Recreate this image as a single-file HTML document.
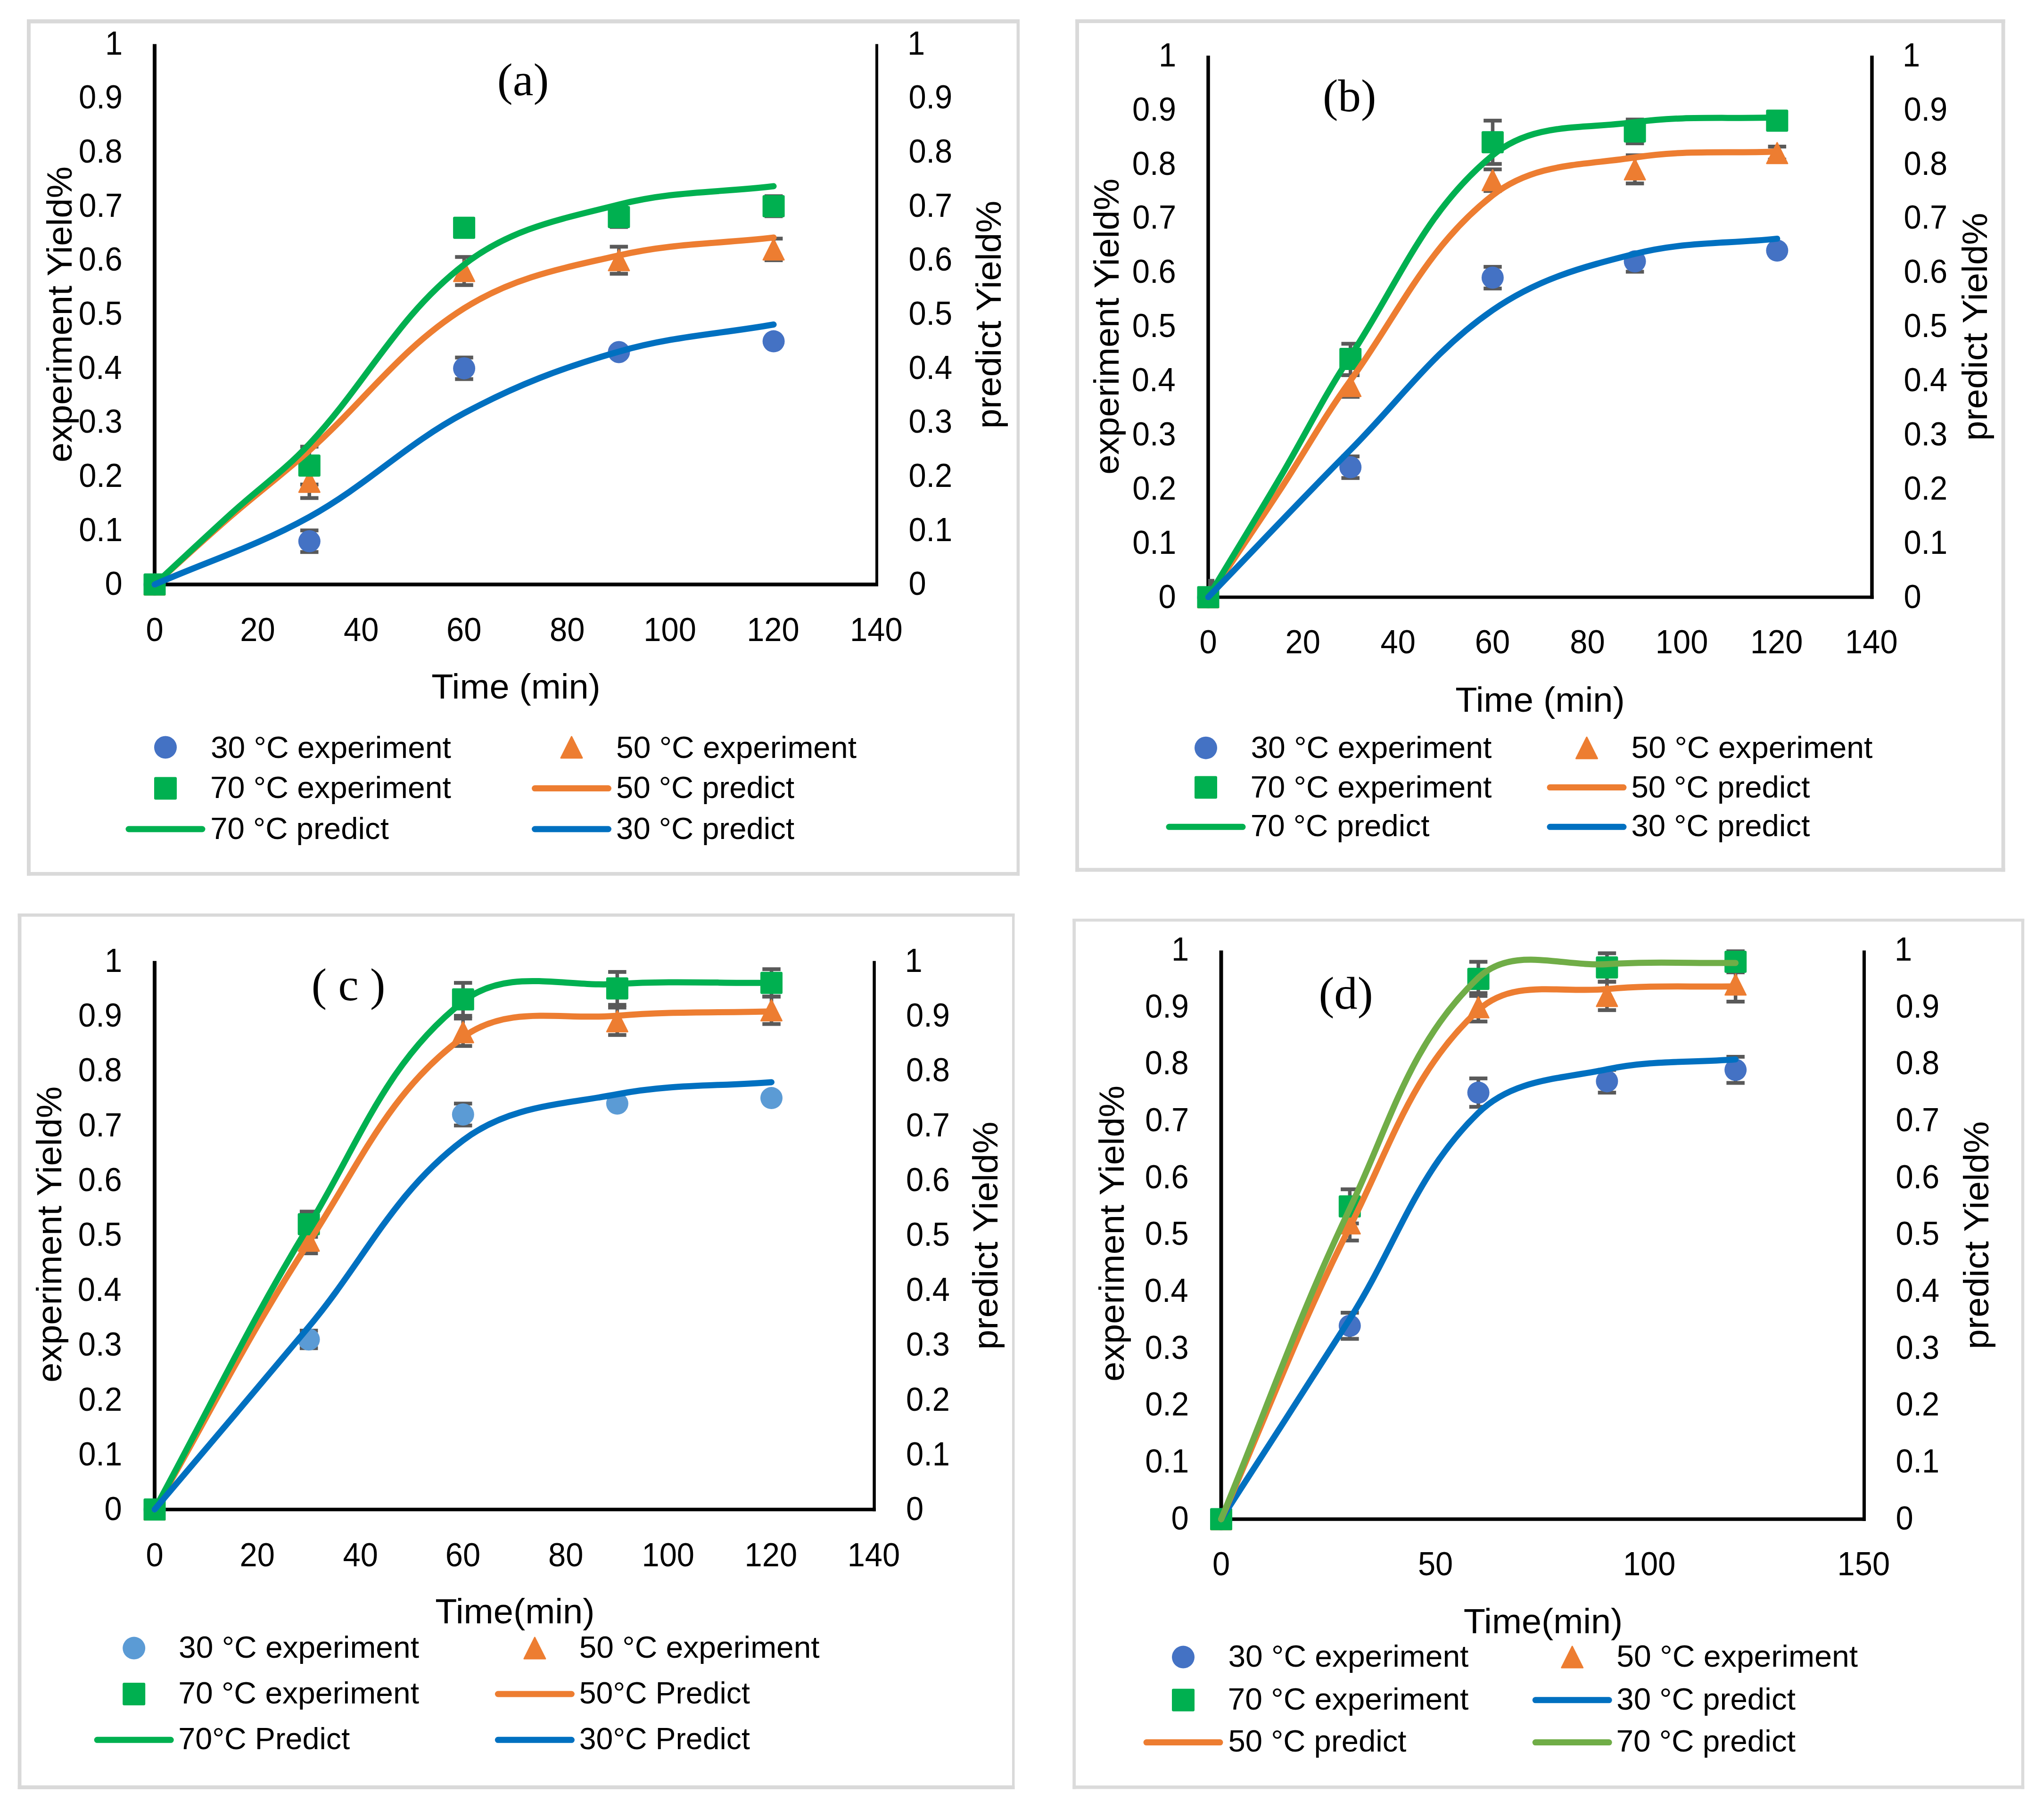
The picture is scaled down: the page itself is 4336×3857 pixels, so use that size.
<!DOCTYPE html>
<html><head><meta charset="utf-8"><title>Yield vs time</title>
<style>html,body{margin:0;padding:0;background:#fff;}svg{display:block;}</style></head>
<body>
<svg width="4336" height="3857" viewBox="0 0 4336 3857">
<rect width="4336" height="3857" fill="#fff"/>
<g fill="#d9d9d9"><rect x="57.0" y="41.0" width="8.0" height="1816.8"/><rect x="2156.5" y="41.0" width="6.5" height="1816.8"/><rect x="57.0" y="41.0" width="2106.0" height="8.6"/><rect x="57.0" y="1850.0" width="2106.0" height="7.8"/></g>
<path d="M328.0 93.5 V1244.0" stroke="#000" stroke-width="8.0" fill="none"/><path d="M1860.0 93.5 V1244.0" stroke="#000" stroke-width="6.0" fill="none"/><path d="M324.0 1240.0 H1863.0" stroke="#000" stroke-width="8.0" fill="none"/>
<text x="222.4" y="1262.2" font-family="'Liberation Sans', sans-serif" font-size="70.0" fill="#000" textLength="37.2" lengthAdjust="spacingAndGlyphs" xml:space="preserve">0</text>
<text x="1927.4" y="1262.2" font-family="'Liberation Sans', sans-serif" font-size="70.0" fill="#000" textLength="37.2" lengthAdjust="spacingAndGlyphs" xml:space="preserve">0</text>
<text x="167.2" y="1147.5" font-family="'Liberation Sans', sans-serif" font-size="70.0" fill="#000" textLength="92.9" lengthAdjust="spacingAndGlyphs" xml:space="preserve">0.1</text>
<text x="1927.4" y="1147.5" font-family="'Liberation Sans', sans-serif" font-size="70.0" fill="#000" textLength="92.9" lengthAdjust="spacingAndGlyphs" xml:space="preserve">0.1</text>
<text x="167.2" y="1032.9" font-family="'Liberation Sans', sans-serif" font-size="70.0" fill="#000" textLength="92.9" lengthAdjust="spacingAndGlyphs" xml:space="preserve">0.2</text>
<text x="1927.4" y="1032.9" font-family="'Liberation Sans', sans-serif" font-size="70.0" fill="#000" textLength="92.9" lengthAdjust="spacingAndGlyphs" xml:space="preserve">0.2</text>
<text x="166.8" y="918.2" font-family="'Liberation Sans', sans-serif" font-size="70.0" fill="#000" textLength="92.9" lengthAdjust="spacingAndGlyphs" xml:space="preserve">0.3</text>
<text x="1927.4" y="918.2" font-family="'Liberation Sans', sans-serif" font-size="70.0" fill="#000" textLength="92.9" lengthAdjust="spacingAndGlyphs" xml:space="preserve">0.3</text>
<text x="165.8" y="803.6" font-family="'Liberation Sans', sans-serif" font-size="70.0" fill="#000" textLength="92.9" lengthAdjust="spacingAndGlyphs" xml:space="preserve">0.4</text>
<text x="1927.4" y="803.6" font-family="'Liberation Sans', sans-serif" font-size="70.0" fill="#000" textLength="92.9" lengthAdjust="spacingAndGlyphs" xml:space="preserve">0.4</text>
<text x="166.8" y="689.0" font-family="'Liberation Sans', sans-serif" font-size="70.0" fill="#000" textLength="92.9" lengthAdjust="spacingAndGlyphs" xml:space="preserve">0.5</text>
<text x="1927.4" y="689.0" font-family="'Liberation Sans', sans-serif" font-size="70.0" fill="#000" textLength="92.9" lengthAdjust="spacingAndGlyphs" xml:space="preserve">0.5</text>
<text x="166.8" y="574.3" font-family="'Liberation Sans', sans-serif" font-size="70.0" fill="#000" textLength="92.9" lengthAdjust="spacingAndGlyphs" xml:space="preserve">0.6</text>
<text x="1927.4" y="574.3" font-family="'Liberation Sans', sans-serif" font-size="70.0" fill="#000" textLength="92.9" lengthAdjust="spacingAndGlyphs" xml:space="preserve">0.6</text>
<text x="167.2" y="459.7" font-family="'Liberation Sans', sans-serif" font-size="70.0" fill="#000" textLength="92.9" lengthAdjust="spacingAndGlyphs" xml:space="preserve">0.7</text>
<text x="1927.4" y="459.7" font-family="'Liberation Sans', sans-serif" font-size="70.0" fill="#000" textLength="92.9" lengthAdjust="spacingAndGlyphs" xml:space="preserve">0.7</text>
<text x="166.8" y="345.0" font-family="'Liberation Sans', sans-serif" font-size="70.0" fill="#000" textLength="92.9" lengthAdjust="spacingAndGlyphs" xml:space="preserve">0.8</text>
<text x="1927.4" y="345.0" font-family="'Liberation Sans', sans-serif" font-size="70.0" fill="#000" textLength="92.9" lengthAdjust="spacingAndGlyphs" xml:space="preserve">0.8</text>
<text x="167.0" y="230.3" font-family="'Liberation Sans', sans-serif" font-size="70.0" fill="#000" textLength="92.9" lengthAdjust="spacingAndGlyphs" xml:space="preserve">0.9</text>
<text x="1927.4" y="230.3" font-family="'Liberation Sans', sans-serif" font-size="70.0" fill="#000" textLength="92.9" lengthAdjust="spacingAndGlyphs" xml:space="preserve">0.9</text>
<text x="223.1" y="115.7" font-family="'Liberation Sans', sans-serif" font-size="70.0" fill="#000" textLength="37.2" lengthAdjust="spacingAndGlyphs" xml:space="preserve">1</text>
<text x="1925.0" y="115.7" font-family="'Liberation Sans', sans-serif" font-size="70.0" fill="#000" textLength="37.2" lengthAdjust="spacingAndGlyphs" xml:space="preserve">1</text>
<text x="309.4" y="1360.0" font-family="'Liberation Sans', sans-serif" font-size="70.0" fill="#000" textLength="37.2" lengthAdjust="spacingAndGlyphs" xml:space="preserve">0</text>
<text x="509.3" y="1360.0" font-family="'Liberation Sans', sans-serif" font-size="70.0" fill="#000" textLength="74.4" lengthAdjust="spacingAndGlyphs" xml:space="preserve">20</text>
<text x="729.1" y="1360.0" font-family="'Liberation Sans', sans-serif" font-size="70.0" fill="#000" textLength="74.4" lengthAdjust="spacingAndGlyphs" xml:space="preserve">40</text>
<text x="947.0" y="1360.0" font-family="'Liberation Sans', sans-serif" font-size="70.0" fill="#000" textLength="74.4" lengthAdjust="spacingAndGlyphs" xml:space="preserve">60</text>
<text x="1166.1" y="1360.0" font-family="'Liberation Sans', sans-serif" font-size="70.0" fill="#000" textLength="74.4" lengthAdjust="spacingAndGlyphs" xml:space="preserve">80</text>
<text x="1365.3" y="1360.0" font-family="'Liberation Sans', sans-serif" font-size="70.0" fill="#000" textLength="111.5" lengthAdjust="spacingAndGlyphs" xml:space="preserve">100</text>
<text x="1584.2" y="1360.0" font-family="'Liberation Sans', sans-serif" font-size="70.0" fill="#000" textLength="111.5" lengthAdjust="spacingAndGlyphs" xml:space="preserve">120</text>
<text x="1803.1" y="1360.0" font-family="'Liberation Sans', sans-serif" font-size="70.0" fill="#000" textLength="111.5" lengthAdjust="spacingAndGlyphs" xml:space="preserve">140</text>
<text transform="translate(152.0 666.8) rotate(-90)" x="-314.3" y="0" font-family="'Liberation Sans', sans-serif" font-size="75.0" fill="#000" textLength="628.0" lengthAdjust="spacingAndGlyphs" xml:space="preserve">experiment Yield%</text>
<text transform="translate(2123.0 666.8) rotate(-90)" x="-242.8" y="0" font-family="'Liberation Sans', sans-serif" font-size="75.0" fill="#000" textLength="483.7" lengthAdjust="spacingAndGlyphs" xml:space="preserve">predict Yield%</text>
<text x="915.2" y="1482.0" font-family="'Liberation Sans', sans-serif" font-size="75.0" fill="#000" textLength="358.6" lengthAdjust="spacingAndGlyphs" xml:space="preserve">Time (min)</text>
<text x="1054.8" y="202.0" font-family="'Liberation Serif', serif" font-size="97.0" fill="#000" textLength="109.6" lengthAdjust="spacingAndGlyphs" xml:space="preserve">(a)</text>
<rect x="652.5" y="1125.3" width="7.5" height="45.9" fill="#595959"/>
<rect x="637.0" y="1121.3" width="38.5" height="8" fill="#595959"/>
<rect x="637.0" y="1167.2" width="38.5" height="8" fill="#595959"/>
<rect x="980.8" y="758.5" width="7.5" height="45.9" fill="#595959"/>
<rect x="965.3" y="754.5" width="38.5" height="8" fill="#595959"/>
<rect x="965.3" y="800.3" width="38.5" height="8" fill="#595959"/>
<rect x="652.5" y="987.8" width="7.5" height="68.8" fill="#595959"/>
<rect x="637.0" y="983.8" width="38.5" height="8" fill="#595959"/>
<rect x="637.0" y="1052.6" width="38.5" height="8" fill="#595959"/>
<rect x="980.8" y="545.2" width="7.5" height="59.6" fill="#595959"/>
<rect x="965.3" y="541.2" width="38.5" height="8" fill="#595959"/>
<rect x="965.3" y="600.8" width="38.5" height="8" fill="#595959"/>
<rect x="1309.1" y="523.4" width="7.5" height="57.3" fill="#595959"/>
<rect x="1293.6" y="519.4" width="38.5" height="8" fill="#595959"/>
<rect x="1293.6" y="576.8" width="38.5" height="8" fill="#595959"/>
<rect x="1637.4" y="506.2" width="7.5" height="45.9" fill="#595959"/>
<rect x="1621.9" y="502.2" width="38.5" height="8" fill="#595959"/>
<rect x="1621.9" y="548.1" width="38.5" height="8" fill="#595959"/>
<rect x="652.5" y="947.6" width="7.5" height="80.3" fill="#595959"/>
<rect x="637.0" y="943.6" width="38.5" height="8" fill="#595959"/>
<rect x="637.0" y="1023.9" width="38.5" height="8" fill="#595959"/>
<rect x="1309.1" y="439.2" width="7.5" height="42.4" fill="#595959"/>
<rect x="1293.6" y="435.2" width="38.5" height="8" fill="#595959"/>
<rect x="1293.6" y="477.6" width="38.5" height="8" fill="#595959"/>
<rect x="1637.4" y="416.2" width="7.5" height="42.4" fill="#595959"/>
<rect x="1621.9" y="412.2" width="38.5" height="8" fill="#595959"/>
<rect x="1621.9" y="454.7" width="38.5" height="8" fill="#595959"/>
<circle cx="328.0" cy="1240.0" r="23.5" fill="#4472C4"/>
<circle cx="656.3" cy="1148.3" r="23.5" fill="#4472C4"/>
<circle cx="984.6" cy="781.4" r="23.5" fill="#4472C4"/>
<circle cx="1312.9" cy="747.0" r="23.5" fill="#4472C4"/>
<circle cx="1641.1" cy="724.1" r="23.5" fill="#4472C4"/>
<path d="M328.0 1218.0 L350.0 1262.0 L306.0 1262.0 Z" fill="#ED7D31" stroke="#ED7D31" stroke-width="3" stroke-linejoin="round"/>
<path d="M656.3 1000.2 L678.3 1044.2 L634.3 1044.2 Z" fill="#ED7D31" stroke="#ED7D31" stroke-width="3" stroke-linejoin="round"/>
<path d="M984.6 553.0 L1006.6 597.0 L962.6 597.0 Z" fill="#ED7D31" stroke="#ED7D31" stroke-width="3" stroke-linejoin="round"/>
<path d="M1312.9 530.1 L1334.9 574.1 L1290.9 574.1 Z" fill="#ED7D31" stroke="#ED7D31" stroke-width="3" stroke-linejoin="round"/>
<path d="M1641.1 507.2 L1663.1 551.2 L1619.1 551.2 Z" fill="#ED7D31" stroke="#ED7D31" stroke-width="3" stroke-linejoin="round"/>
<rect x="304.5" y="1216.5" width="47.0" height="47.0" rx="3" fill="#00B050"/>
<rect x="632.8" y="964.3" width="47.0" height="47.0" rx="3" fill="#00B050"/>
<rect x="961.1" y="459.8" width="47.0" height="47.0" rx="3" fill="#00B050"/>
<rect x="1289.4" y="436.9" width="47.0" height="47.0" rx="3" fill="#00B050"/>
<rect x="1617.6" y="414.0" width="47.0" height="47.0" rx="3" fill="#00B050"/>
<path d="M328.0 1240.0 C387.1 1187.2 432.2 1145.1 492.1 1093.2 C550.4 1042.8 598.7 1007.0 656.3 955.7 C776.1 848.9 848.8 739.7 984.6 654.1 C1090.2 587.5 1191.1 569.6 1312.9 541.8 C1428.8 515.3 1523.0 517.6 1641.1 503.9" fill="none" stroke="#ED7D31" stroke-width="13.0" stroke-linecap="round" stroke-linejoin="round"/>
<path d="M328.0 1240.0 C387.1 1185.3 432.5 1142.2 492.1 1088.1 C550.7 1034.9 602.3 999.7 656.3 941.9 C779.9 809.7 841.4 672.0 984.6 561.3 C1084.8 483.7 1190.0 465.1 1312.9 434.0 C1428.2 404.8 1523.0 409.1 1641.1 395.0" fill="none" stroke="#00B050" stroke-width="13.0" stroke-linecap="round" stroke-linejoin="round"/>
<path d="M328.0 1240.0 C446.2 1188.4 543.5 1159.1 656.3 1096.7 C780.8 1027.8 859.1 943.6 984.6 876.6 C1096.8 816.6 1190.6 780.9 1312.9 745.9 C1428.2 712.8 1523.0 709.2 1641.1 688.5" fill="none" stroke="#0070C0" stroke-width="13.0" stroke-linecap="round" stroke-linejoin="round"/>
<circle cx="351.0" cy="1585.5" r="24.0" fill="#4472C4"/>
<text x="446.9" y="1607.5" font-family="'Liberation Sans', sans-serif" font-size="64.0" fill="#000" textLength="510.0" lengthAdjust="spacingAndGlyphs" xml:space="preserve">30 °C experiment</text>
<path d="M1212.5 1563.0 L1235.0 1608.0 L1190.0 1608.0 Z" fill="#ED7D31" stroke="#ED7D31" stroke-width="3" stroke-linejoin="round"/>
<text x="1307.0" y="1607.5" font-family="'Liberation Sans', sans-serif" font-size="64.0" fill="#000" textLength="510.0" lengthAdjust="spacingAndGlyphs" xml:space="preserve">50 °C experiment</text>
<rect x="327.0" y="1648.6" width="48.0" height="48.0" rx="3" fill="#00B050"/>
<text x="446.1" y="1693.0" font-family="'Liberation Sans', sans-serif" font-size="64.0" fill="#000" textLength="510.8" lengthAdjust="spacingAndGlyphs" xml:space="preserve">70 °C experiment</text>
<path d="M1134.5 1672.6 H1290.5" stroke="#ED7D31" stroke-width="13.0" stroke-linecap="round" fill="none"/>
<text x="1307.1" y="1693.0" font-family="'Liberation Sans', sans-serif" font-size="64.0" fill="#000" textLength="378.0" lengthAdjust="spacingAndGlyphs" xml:space="preserve">50 °C predict</text>
<path d="M273.0 1759.0 H429.0" stroke="#00B050" stroke-width="13.0" stroke-linecap="round" fill="none"/>
<text x="446.2" y="1780.0" font-family="'Liberation Sans', sans-serif" font-size="64.0" fill="#000" textLength="378.7" lengthAdjust="spacingAndGlyphs" xml:space="preserve">70 °C predict</text>
<path d="M1134.5 1759.0 H1290.5" stroke="#0070C0" stroke-width="13.0" stroke-linecap="round" fill="none"/>
<text x="1307.1" y="1780.0" font-family="'Liberation Sans', sans-serif" font-size="64.0" fill="#000" textLength="378.0" lengthAdjust="spacingAndGlyphs" xml:space="preserve">30 °C predict</text>
<g fill="#d9d9d9"><rect x="2281.2" y="41.0" width="7.8" height="1808.5"/><rect x="4245.6" y="41.0" width="7.9" height="1808.5"/><rect x="2281.2" y="41.0" width="1972.3" height="8.0"/><rect x="2281.2" y="1841.3" width="1972.3" height="8.2"/></g>
<path d="M2563.0 118.0 V1270.5" stroke="#000" stroke-width="7.5" fill="none"/><path d="M3971.0 118.0 V1270.5" stroke="#000" stroke-width="7.5" fill="none"/><path d="M2559.2 1267.0 H3974.8" stroke="#000" stroke-width="7.0" fill="none"/>
<text x="2457.4" y="1289.7" font-family="'Liberation Sans', sans-serif" font-size="70.0" fill="#000" textLength="37.2" lengthAdjust="spacingAndGlyphs" xml:space="preserve">0</text>
<text x="4038.4" y="1289.7" font-family="'Liberation Sans', sans-serif" font-size="70.0" fill="#000" textLength="37.2" lengthAdjust="spacingAndGlyphs" xml:space="preserve">0</text>
<text x="2402.2" y="1174.8" font-family="'Liberation Sans', sans-serif" font-size="70.0" fill="#000" textLength="92.9" lengthAdjust="spacingAndGlyphs" xml:space="preserve">0.1</text>
<text x="4038.4" y="1174.8" font-family="'Liberation Sans', sans-serif" font-size="70.0" fill="#000" textLength="92.9" lengthAdjust="spacingAndGlyphs" xml:space="preserve">0.1</text>
<text x="2402.2" y="1059.9" font-family="'Liberation Sans', sans-serif" font-size="70.0" fill="#000" textLength="92.9" lengthAdjust="spacingAndGlyphs" xml:space="preserve">0.2</text>
<text x="4038.4" y="1059.9" font-family="'Liberation Sans', sans-serif" font-size="70.0" fill="#000" textLength="92.9" lengthAdjust="spacingAndGlyphs" xml:space="preserve">0.2</text>
<text x="2401.8" y="945.0" font-family="'Liberation Sans', sans-serif" font-size="70.0" fill="#000" textLength="92.9" lengthAdjust="spacingAndGlyphs" xml:space="preserve">0.3</text>
<text x="4038.4" y="945.0" font-family="'Liberation Sans', sans-serif" font-size="70.0" fill="#000" textLength="92.9" lengthAdjust="spacingAndGlyphs" xml:space="preserve">0.3</text>
<text x="2400.8" y="830.1" font-family="'Liberation Sans', sans-serif" font-size="70.0" fill="#000" textLength="92.9" lengthAdjust="spacingAndGlyphs" xml:space="preserve">0.4</text>
<text x="4038.4" y="830.1" font-family="'Liberation Sans', sans-serif" font-size="70.0" fill="#000" textLength="92.9" lengthAdjust="spacingAndGlyphs" xml:space="preserve">0.4</text>
<text x="2401.8" y="715.2" font-family="'Liberation Sans', sans-serif" font-size="70.0" fill="#000" textLength="92.9" lengthAdjust="spacingAndGlyphs" xml:space="preserve">0.5</text>
<text x="4038.4" y="715.2" font-family="'Liberation Sans', sans-serif" font-size="70.0" fill="#000" textLength="92.9" lengthAdjust="spacingAndGlyphs" xml:space="preserve">0.5</text>
<text x="2401.8" y="600.3" font-family="'Liberation Sans', sans-serif" font-size="70.0" fill="#000" textLength="92.9" lengthAdjust="spacingAndGlyphs" xml:space="preserve">0.6</text>
<text x="4038.4" y="600.3" font-family="'Liberation Sans', sans-serif" font-size="70.0" fill="#000" textLength="92.9" lengthAdjust="spacingAndGlyphs" xml:space="preserve">0.6</text>
<text x="2402.2" y="485.4" font-family="'Liberation Sans', sans-serif" font-size="70.0" fill="#000" textLength="92.9" lengthAdjust="spacingAndGlyphs" xml:space="preserve">0.7</text>
<text x="4038.4" y="485.4" font-family="'Liberation Sans', sans-serif" font-size="70.0" fill="#000" textLength="92.9" lengthAdjust="spacingAndGlyphs" xml:space="preserve">0.7</text>
<text x="2401.8" y="370.5" font-family="'Liberation Sans', sans-serif" font-size="70.0" fill="#000" textLength="92.9" lengthAdjust="spacingAndGlyphs" xml:space="preserve">0.8</text>
<text x="4038.4" y="370.5" font-family="'Liberation Sans', sans-serif" font-size="70.0" fill="#000" textLength="92.9" lengthAdjust="spacingAndGlyphs" xml:space="preserve">0.8</text>
<text x="2402.0" y="255.6" font-family="'Liberation Sans', sans-serif" font-size="70.0" fill="#000" textLength="92.9" lengthAdjust="spacingAndGlyphs" xml:space="preserve">0.9</text>
<text x="4038.4" y="255.6" font-family="'Liberation Sans', sans-serif" font-size="70.0" fill="#000" textLength="92.9" lengthAdjust="spacingAndGlyphs" xml:space="preserve">0.9</text>
<text x="2458.1" y="140.7" font-family="'Liberation Sans', sans-serif" font-size="70.0" fill="#000" textLength="37.2" lengthAdjust="spacingAndGlyphs" xml:space="preserve">1</text>
<text x="4036.0" y="140.7" font-family="'Liberation Sans', sans-serif" font-size="70.0" fill="#000" textLength="37.2" lengthAdjust="spacingAndGlyphs" xml:space="preserve">1</text>
<text x="2544.4" y="1386.0" font-family="'Liberation Sans', sans-serif" font-size="70.0" fill="#000" textLength="37.2" lengthAdjust="spacingAndGlyphs" xml:space="preserve">0</text>
<text x="2726.5" y="1386.0" font-family="'Liberation Sans', sans-serif" font-size="70.0" fill="#000" textLength="74.4" lengthAdjust="spacingAndGlyphs" xml:space="preserve">20</text>
<text x="2928.6" y="1386.0" font-family="'Liberation Sans', sans-serif" font-size="70.0" fill="#000" textLength="74.4" lengthAdjust="spacingAndGlyphs" xml:space="preserve">40</text>
<text x="3128.8" y="1386.0" font-family="'Liberation Sans', sans-serif" font-size="70.0" fill="#000" textLength="74.4" lengthAdjust="spacingAndGlyphs" xml:space="preserve">60</text>
<text x="3330.2" y="1386.0" font-family="'Liberation Sans', sans-serif" font-size="70.0" fill="#000" textLength="74.4" lengthAdjust="spacingAndGlyphs" xml:space="preserve">80</text>
<text x="3511.8" y="1386.0" font-family="'Liberation Sans', sans-serif" font-size="70.0" fill="#000" textLength="111.5" lengthAdjust="spacingAndGlyphs" xml:space="preserve">100</text>
<text x="3712.9" y="1386.0" font-family="'Liberation Sans', sans-serif" font-size="70.0" fill="#000" textLength="111.5" lengthAdjust="spacingAndGlyphs" xml:space="preserve">120</text>
<text x="3914.1" y="1386.0" font-family="'Liberation Sans', sans-serif" font-size="70.0" fill="#000" textLength="111.5" lengthAdjust="spacingAndGlyphs" xml:space="preserve">140</text>
<text transform="translate(2373.0 692.5) rotate(-90)" x="-314.3" y="0" font-family="'Liberation Sans', sans-serif" font-size="75.0" fill="#000" textLength="628.0" lengthAdjust="spacingAndGlyphs" xml:space="preserve">experiment Yield%</text>
<text transform="translate(4214.8 692.5) rotate(-90)" x="-242.8" y="0" font-family="'Liberation Sans', sans-serif" font-size="75.0" fill="#000" textLength="483.7" lengthAdjust="spacingAndGlyphs" xml:space="preserve">predict Yield%</text>
<text x="3087.2" y="1509.6" font-family="'Liberation Sans', sans-serif" font-size="75.0" fill="#000" textLength="359.6" lengthAdjust="spacingAndGlyphs" xml:space="preserve">Time (min)</text>
<text x="2805.9" y="236.3" font-family="'Liberation Serif', serif" font-size="97.0" fill="#000" textLength="113.4" lengthAdjust="spacingAndGlyphs" xml:space="preserve">(b)</text>
<rect x="2861.0" y="968.3" width="7.5" height="46.0" fill="#595959"/>
<rect x="2845.5" y="964.3" width="38.5" height="8" fill="#595959"/>
<rect x="2845.5" y="1010.2" width="38.5" height="8" fill="#595959"/>
<rect x="3162.7" y="566.1" width="7.5" height="46.0" fill="#595959"/>
<rect x="3147.2" y="562.1" width="38.5" height="8" fill="#595959"/>
<rect x="3147.2" y="608.1" width="38.5" height="8" fill="#595959"/>
<rect x="3464.4" y="554.6" width="7.5" height="21.8" fill="#595959"/>
<rect x="3448.9" y="550.6" width="38.5" height="8" fill="#595959"/>
<rect x="3448.9" y="572.5" width="38.5" height="8" fill="#595959"/>
<rect x="2861.0" y="795.9" width="7.5" height="46.0" fill="#595959"/>
<rect x="2845.5" y="791.9" width="38.5" height="8" fill="#595959"/>
<rect x="2845.5" y="837.9" width="38.5" height="8" fill="#595959"/>
<rect x="3162.7" y="359.3" width="7.5" height="46.0" fill="#595959"/>
<rect x="3147.2" y="355.3" width="38.5" height="8" fill="#595959"/>
<rect x="3147.2" y="401.2" width="38.5" height="8" fill="#595959"/>
<rect x="3464.4" y="329.4" width="7.5" height="59.7" fill="#595959"/>
<rect x="3448.9" y="325.4" width="38.5" height="8" fill="#595959"/>
<rect x="3448.9" y="385.2" width="38.5" height="8" fill="#595959"/>
<rect x="3766.1" y="311.0" width="7.5" height="27.6" fill="#595959"/>
<rect x="3750.6" y="307.0" width="38.5" height="8" fill="#595959"/>
<rect x="3750.6" y="334.6" width="38.5" height="8" fill="#595959"/>
<rect x="2861.0" y="729.3" width="7.5" height="66.6" fill="#595959"/>
<rect x="2845.5" y="725.3" width="38.5" height="8" fill="#595959"/>
<rect x="2845.5" y="791.9" width="38.5" height="8" fill="#595959"/>
<rect x="3162.7" y="255.9" width="7.5" height="91.9" fill="#595959"/>
<rect x="3147.2" y="251.9" width="38.5" height="8" fill="#595959"/>
<rect x="3147.2" y="343.8" width="38.5" height="8" fill="#595959"/>
<rect x="3464.4" y="253.6" width="7.5" height="50.6" fill="#595959"/>
<rect x="3448.9" y="249.6" width="38.5" height="8" fill="#595959"/>
<rect x="3448.9" y="300.1" width="38.5" height="8" fill="#595959"/>
<rect x="2563.0" y="1228.2" width="13" height="33.3" fill="#595959"/>
<circle cx="2563.0" cy="1267.0" r="23.5" fill="#4472C4"/>
<circle cx="2864.7" cy="991.2" r="23.5" fill="#4472C4"/>
<circle cx="3166.4" cy="589.1" r="23.5" fill="#4472C4"/>
<circle cx="3468.1" cy="554.6" r="23.5" fill="#4472C4"/>
<circle cx="3769.9" cy="531.6" r="23.5" fill="#4472C4"/>
<path d="M2563.0 1245.0 L2585.0 1289.0 L2541.0 1289.0 Z" fill="#ED7D31" stroke="#ED7D31" stroke-width="3" stroke-linejoin="round"/>
<path d="M2864.7 796.9 L2886.7 840.9 L2842.7 840.9 Z" fill="#ED7D31" stroke="#ED7D31" stroke-width="3" stroke-linejoin="round"/>
<path d="M3166.4 360.3 L3188.4 404.3 L3144.4 404.3 Z" fill="#ED7D31" stroke="#ED7D31" stroke-width="3" stroke-linejoin="round"/>
<path d="M3468.1 337.3 L3490.1 381.3 L3446.1 381.3 Z" fill="#ED7D31" stroke="#ED7D31" stroke-width="3" stroke-linejoin="round"/>
<path d="M3769.9 302.8 L3791.9 346.8 L3747.9 346.8 Z" fill="#ED7D31" stroke="#ED7D31" stroke-width="3" stroke-linejoin="round"/>
<rect x="2539.5" y="1243.5" width="47.0" height="47.0" rx="3" fill="#00B050"/>
<rect x="2841.2" y="737.9" width="47.0" height="47.0" rx="3" fill="#00B050"/>
<rect x="3142.9" y="278.3" width="47.0" height="47.0" rx="3" fill="#00B050"/>
<rect x="3444.6" y="255.4" width="47.0" height="47.0" rx="3" fill="#00B050"/>
<rect x="3746.4" y="232.4" width="47.0" height="47.0" rx="3" fill="#00B050"/>
<path d="M2563.0 1267.0 C2617.3 1185.9 2660.3 1123.4 2713.9 1041.8 C2768.9 957.9 2806.0 888.8 2864.7 807.4 C2969.1 662.8 3026.1 524.5 3166.4 414.4 C3254.9 345.1 3357.0 351.1 3468.1 334.0 C3575.6 317.4 3661.2 325.9 3769.9 321.4" fill="none" stroke="#ED7D31" stroke-width="13.0" stroke-linecap="round" stroke-linejoin="round"/>
<path d="M2563.0 1267.0 C2617.3 1176.6 2660.3 1106.8 2713.9 1015.9 C2768.9 922.7 2805.1 846.1 2864.7 755.7 C2968.2 598.7 3021.2 448.9 3166.4 329.4 C3252.5 258.6 3357.6 274.1 3468.1 259.3 C3575.9 245.0 3661.2 252.7 3769.9 249.0" fill="none" stroke="#00B050" stroke-width="13.0" stroke-linecap="round" stroke-linejoin="round"/>
<path d="M2563.0 1267.0 C2671.6 1154.5 2754.6 1065.6 2864.7 954.5 C2971.9 846.3 3041.1 744.4 3166.4 658.0 C3262.6 591.7 3354.8 567.0 3468.1 538.5 C3574.1 511.9 3661.2 517.9 3769.9 506.4" fill="none" stroke="#0070C0" stroke-width="13.0" stroke-linecap="round" stroke-linejoin="round"/>
<circle cx="2558.0" cy="1586.7" r="24.0" fill="#4472C4"/>
<text x="2653.4" y="1607.5" font-family="'Liberation Sans', sans-serif" font-size="64.0" fill="#000" textLength="511.0" lengthAdjust="spacingAndGlyphs" xml:space="preserve">30 °C experiment</text>
<path d="M3366.0 1564.2 L3388.5 1609.2 L3343.5 1609.2 Z" fill="#ED7D31" stroke="#ED7D31" stroke-width="3" stroke-linejoin="round"/>
<text x="3460.4" y="1607.5" font-family="'Liberation Sans', sans-serif" font-size="64.0" fill="#000" textLength="512.0" lengthAdjust="spacingAndGlyphs" xml:space="preserve">50 °C experiment</text>
<rect x="2534.0" y="1646.6" width="48.0" height="48.0" rx="3" fill="#00B050"/>
<text x="2652.6" y="1691.6" font-family="'Liberation Sans', sans-serif" font-size="64.0" fill="#000" textLength="511.8" lengthAdjust="spacingAndGlyphs" xml:space="preserve">70 °C experiment</text>
<path d="M3288.0 1670.6 H3444.0" stroke="#ED7D31" stroke-width="13.0" stroke-linecap="round" fill="none"/>
<text x="3460.4" y="1691.6" font-family="'Liberation Sans', sans-serif" font-size="64.0" fill="#000" textLength="379.0" lengthAdjust="spacingAndGlyphs" xml:space="preserve">50 °C predict</text>
<path d="M2480.0 1754.3 H2636.0" stroke="#00B050" stroke-width="13.0" stroke-linecap="round" fill="none"/>
<text x="2652.7" y="1773.8" font-family="'Liberation Sans', sans-serif" font-size="64.0" fill="#000" textLength="379.7" lengthAdjust="spacingAndGlyphs" xml:space="preserve">70 °C predict</text>
<path d="M3288.0 1754.3 H3444.0" stroke="#0070C0" stroke-width="13.0" stroke-linecap="round" fill="none"/>
<text x="3460.4" y="1773.8" font-family="'Liberation Sans', sans-serif" font-size="64.0" fill="#000" textLength="379.0" lengthAdjust="spacingAndGlyphs" xml:space="preserve">30 °C predict</text>
<g fill="#d9d9d9"><rect x="37.7" y="1938.0" width="7.8" height="1858.0"/><rect x="2147.0" y="1938.0" width="5.4" height="1858.0"/><rect x="37.7" y="1938.0" width="2114.7" height="6.8"/><rect x="37.7" y="3787.7" width="2114.7" height="8.3"/></g>
<path d="M328.0 2038.7 V3206.2" stroke="#000" stroke-width="8.0" fill="none"/><path d="M1854.6 2038.7 V3206.2" stroke="#000" stroke-width="6.5" fill="none"/><path d="M324.0 3202.4 H1857.8" stroke="#000" stroke-width="7.5" fill="none"/>
<text x="221.4" y="3225.3" font-family="'Liberation Sans', sans-serif" font-size="70.0" fill="#000" textLength="37.2" lengthAdjust="spacingAndGlyphs" xml:space="preserve">0</text>
<text x="1922.0" y="3225.3" font-family="'Liberation Sans', sans-serif" font-size="70.0" fill="#000" textLength="37.2" lengthAdjust="spacingAndGlyphs" xml:space="preserve">0</text>
<text x="166.2" y="3108.9" font-family="'Liberation Sans', sans-serif" font-size="70.0" fill="#000" textLength="92.9" lengthAdjust="spacingAndGlyphs" xml:space="preserve">0.1</text>
<text x="1922.0" y="3108.9" font-family="'Liberation Sans', sans-serif" font-size="70.0" fill="#000" textLength="92.9" lengthAdjust="spacingAndGlyphs" xml:space="preserve">0.1</text>
<text x="166.2" y="2992.6" font-family="'Liberation Sans', sans-serif" font-size="70.0" fill="#000" textLength="92.9" lengthAdjust="spacingAndGlyphs" xml:space="preserve">0.2</text>
<text x="1922.0" y="2992.6" font-family="'Liberation Sans', sans-serif" font-size="70.0" fill="#000" textLength="92.9" lengthAdjust="spacingAndGlyphs" xml:space="preserve">0.2</text>
<text x="165.8" y="2876.2" font-family="'Liberation Sans', sans-serif" font-size="70.0" fill="#000" textLength="92.9" lengthAdjust="spacingAndGlyphs" xml:space="preserve">0.3</text>
<text x="1922.0" y="2876.2" font-family="'Liberation Sans', sans-serif" font-size="70.0" fill="#000" textLength="92.9" lengthAdjust="spacingAndGlyphs" xml:space="preserve">0.3</text>
<text x="164.8" y="2759.8" font-family="'Liberation Sans', sans-serif" font-size="70.0" fill="#000" textLength="92.9" lengthAdjust="spacingAndGlyphs" xml:space="preserve">0.4</text>
<text x="1922.0" y="2759.8" font-family="'Liberation Sans', sans-serif" font-size="70.0" fill="#000" textLength="92.9" lengthAdjust="spacingAndGlyphs" xml:space="preserve">0.4</text>
<text x="165.8" y="2643.4" font-family="'Liberation Sans', sans-serif" font-size="70.0" fill="#000" textLength="92.9" lengthAdjust="spacingAndGlyphs" xml:space="preserve">0.5</text>
<text x="1922.0" y="2643.4" font-family="'Liberation Sans', sans-serif" font-size="70.0" fill="#000" textLength="92.9" lengthAdjust="spacingAndGlyphs" xml:space="preserve">0.5</text>
<text x="165.8" y="2527.1" font-family="'Liberation Sans', sans-serif" font-size="70.0" fill="#000" textLength="92.9" lengthAdjust="spacingAndGlyphs" xml:space="preserve">0.6</text>
<text x="1922.0" y="2527.1" font-family="'Liberation Sans', sans-serif" font-size="70.0" fill="#000" textLength="92.9" lengthAdjust="spacingAndGlyphs" xml:space="preserve">0.6</text>
<text x="166.2" y="2410.7" font-family="'Liberation Sans', sans-serif" font-size="70.0" fill="#000" textLength="92.9" lengthAdjust="spacingAndGlyphs" xml:space="preserve">0.7</text>
<text x="1922.0" y="2410.7" font-family="'Liberation Sans', sans-serif" font-size="70.0" fill="#000" textLength="92.9" lengthAdjust="spacingAndGlyphs" xml:space="preserve">0.7</text>
<text x="165.8" y="2294.3" font-family="'Liberation Sans', sans-serif" font-size="70.0" fill="#000" textLength="92.9" lengthAdjust="spacingAndGlyphs" xml:space="preserve">0.8</text>
<text x="1922.0" y="2294.3" font-family="'Liberation Sans', sans-serif" font-size="70.0" fill="#000" textLength="92.9" lengthAdjust="spacingAndGlyphs" xml:space="preserve">0.8</text>
<text x="166.0" y="2178.0" font-family="'Liberation Sans', sans-serif" font-size="70.0" fill="#000" textLength="92.9" lengthAdjust="spacingAndGlyphs" xml:space="preserve">0.9</text>
<text x="1922.0" y="2178.0" font-family="'Liberation Sans', sans-serif" font-size="70.0" fill="#000" textLength="92.9" lengthAdjust="spacingAndGlyphs" xml:space="preserve">0.9</text>
<text x="222.1" y="2061.6" font-family="'Liberation Sans', sans-serif" font-size="70.0" fill="#000" textLength="37.2" lengthAdjust="spacingAndGlyphs" xml:space="preserve">1</text>
<text x="1919.6" y="2061.6" font-family="'Liberation Sans', sans-serif" font-size="70.0" fill="#000" textLength="37.2" lengthAdjust="spacingAndGlyphs" xml:space="preserve">1</text>
<text x="309.4" y="3323.0" font-family="'Liberation Sans', sans-serif" font-size="70.0" fill="#000" textLength="37.2" lengthAdjust="spacingAndGlyphs" xml:space="preserve">0</text>
<text x="508.5" y="3323.0" font-family="'Liberation Sans', sans-serif" font-size="70.0" fill="#000" textLength="74.4" lengthAdjust="spacingAndGlyphs" xml:space="preserve">20</text>
<text x="727.5" y="3323.0" font-family="'Liberation Sans', sans-serif" font-size="70.0" fill="#000" textLength="74.4" lengthAdjust="spacingAndGlyphs" xml:space="preserve">40</text>
<text x="944.7" y="3323.0" font-family="'Liberation Sans', sans-serif" font-size="70.0" fill="#000" textLength="74.4" lengthAdjust="spacingAndGlyphs" xml:space="preserve">60</text>
<text x="1163.0" y="3323.0" font-family="'Liberation Sans', sans-serif" font-size="70.0" fill="#000" textLength="74.4" lengthAdjust="spacingAndGlyphs" xml:space="preserve">80</text>
<text x="1361.5" y="3323.0" font-family="'Liberation Sans', sans-serif" font-size="70.0" fill="#000" textLength="111.5" lengthAdjust="spacingAndGlyphs" xml:space="preserve">100</text>
<text x="1579.6" y="3323.0" font-family="'Liberation Sans', sans-serif" font-size="70.0" fill="#000" textLength="111.5" lengthAdjust="spacingAndGlyphs" xml:space="preserve">120</text>
<text x="1797.7" y="3323.0" font-family="'Liberation Sans', sans-serif" font-size="70.0" fill="#000" textLength="111.5" lengthAdjust="spacingAndGlyphs" xml:space="preserve">140</text>
<text transform="translate(130.0 2618.6) rotate(-90)" x="-314.3" y="0" font-family="'Liberation Sans', sans-serif" font-size="75.0" fill="#000" textLength="628.0" lengthAdjust="spacingAndGlyphs" xml:space="preserve">experiment Yield%</text>
<text transform="translate(2116.4 2620.6) rotate(-90)" x="-242.8" y="0" font-family="'Liberation Sans', sans-serif" font-size="75.0" fill="#000" textLength="483.7" lengthAdjust="spacingAndGlyphs" xml:space="preserve">predict Yield%</text>
<text x="923.3" y="3443.7" font-family="'Liberation Sans', sans-serif" font-size="75.0" fill="#000" textLength="338.2" lengthAdjust="spacingAndGlyphs" xml:space="preserve">Time(min)</text>
<text x="660.7" y="2122.0" font-family="'Liberation Serif', serif" font-size="97.0" fill="#000" textLength="156.7" lengthAdjust="spacingAndGlyphs" xml:space="preserve">( c )</text>
<rect x="651.4" y="2823.0" width="7.5" height="37.2" fill="#595959"/>
<rect x="635.9" y="2819.0" width="38.5" height="8" fill="#595959"/>
<rect x="635.9" y="2856.3" width="38.5" height="8" fill="#595959"/>
<rect x="978.5" y="2341.3" width="7.5" height="46.5" fill="#595959"/>
<rect x="963.0" y="2337.3" width="38.5" height="8" fill="#595959"/>
<rect x="963.0" y="2383.8" width="38.5" height="8" fill="#595959"/>
<rect x="651.4" y="2605.4" width="7.5" height="53.5" fill="#595959"/>
<rect x="635.9" y="2601.4" width="38.5" height="8" fill="#595959"/>
<rect x="635.9" y="2655.0" width="38.5" height="8" fill="#595959"/>
<rect x="978.5" y="2160.9" width="7.5" height="58.2" fill="#595959"/>
<rect x="963.0" y="2156.9" width="38.5" height="8" fill="#595959"/>
<rect x="963.0" y="2215.1" width="38.5" height="8" fill="#595959"/>
<rect x="1305.6" y="2137.6" width="7.5" height="58.2" fill="#595959"/>
<rect x="1290.1" y="2133.6" width="38.5" height="8" fill="#595959"/>
<rect x="1290.1" y="2191.8" width="38.5" height="8" fill="#595959"/>
<rect x="1632.8" y="2114.3" width="7.5" height="58.2" fill="#595959"/>
<rect x="1617.3" y="2110.3" width="38.5" height="8" fill="#595959"/>
<rect x="1617.3" y="2168.5" width="38.5" height="8" fill="#595959"/>
<rect x="651.4" y="2570.5" width="7.5" height="53.5" fill="#595959"/>
<rect x="635.9" y="2566.5" width="38.5" height="8" fill="#595959"/>
<rect x="635.9" y="2620.0" width="38.5" height="8" fill="#595959"/>
<rect x="978.5" y="2085.2" width="7.5" height="69.8" fill="#595959"/>
<rect x="963.0" y="2081.2" width="38.5" height="8" fill="#595959"/>
<rect x="963.0" y="2151.1" width="38.5" height="8" fill="#595959"/>
<rect x="1305.6" y="2062.0" width="7.5" height="69.8" fill="#595959"/>
<rect x="1290.1" y="2058.0" width="38.5" height="8" fill="#595959"/>
<rect x="1290.1" y="2127.8" width="38.5" height="8" fill="#595959"/>
<rect x="1632.8" y="2056.2" width="7.5" height="58.2" fill="#595959"/>
<rect x="1617.3" y="2052.2" width="38.5" height="8" fill="#595959"/>
<rect x="1617.3" y="2110.3" width="38.5" height="8" fill="#595959"/>
<circle cx="328.0" cy="3202.4" r="23.5" fill="#5B9BD5"/>
<circle cx="655.1" cy="2841.7" r="23.5" fill="#5B9BD5"/>
<circle cx="982.3" cy="2364.5" r="23.5" fill="#5B9BD5"/>
<circle cx="1309.4" cy="2341.3" r="23.5" fill="#5B9BD5"/>
<circle cx="1636.5" cy="2329.6" r="23.5" fill="#5B9BD5"/>
<path d="M328.0 3180.4 L350.0 3224.4 L306.0 3224.4 Z" fill="#ED7D31" stroke="#ED7D31" stroke-width="3" stroke-linejoin="round"/>
<path d="M655.1 2610.2 L677.1 2654.2 L633.1 2654.2 Z" fill="#ED7D31" stroke="#ED7D31" stroke-width="3" stroke-linejoin="round"/>
<path d="M982.3 2168.0 L1004.3 2212.0 L960.3 2212.0 Z" fill="#ED7D31" stroke="#ED7D31" stroke-width="3" stroke-linejoin="round"/>
<path d="M1309.4 2144.7 L1331.4 2188.7 L1287.4 2188.7 Z" fill="#ED7D31" stroke="#ED7D31" stroke-width="3" stroke-linejoin="round"/>
<path d="M1636.5 2121.4 L1658.5 2165.4 L1614.5 2165.4 Z" fill="#ED7D31" stroke="#ED7D31" stroke-width="3" stroke-linejoin="round"/>
<rect x="304.5" y="3178.9" width="47.0" height="47.0" rx="3" fill="#00B050"/>
<rect x="631.6" y="2573.8" width="47.0" height="47.0" rx="3" fill="#00B050"/>
<rect x="958.8" y="2096.7" width="47.0" height="47.0" rx="3" fill="#00B050"/>
<rect x="1285.9" y="2073.4" width="47.0" height="47.0" rx="3" fill="#00B050"/>
<rect x="1613.0" y="2061.7" width="47.0" height="47.0" rx="3" fill="#00B050"/>
<path d="M328.0 3202.4 C445.8 2998.4 526.3 2832.9 655.1 2635.7 C762.3 2471.6 824.3 2316.5 982.3 2200.5 C1078.1 2130.1 1190.9 2165.0 1309.4 2155.1 C1426.8 2145.3 1518.7 2149.1 1636.5 2145.8" fill="none" stroke="#ED7D31" stroke-width="13.0" stroke-linecap="round" stroke-linejoin="round"/>
<path d="M328.0 3202.4 C445.8 2985.8 527.2 2811.5 655.1 2600.8 C763.0 2423.0 818.7 2253.1 982.3 2124.8 C1075.5 2051.7 1191.1 2094.7 1309.4 2087.6 C1426.9 2080.5 1518.7 2086.1 1636.5 2085.2" fill="none" stroke="#00B050" stroke-width="13.0" stroke-linecap="round" stroke-linejoin="round"/>
<path d="M328.0 3202.4 C445.8 3062.9 538.1 2955.0 655.1 2814.9 C773.6 2673.1 834.7 2530.5 982.3 2419.2 C1080.4 2345.2 1188.6 2344.3 1309.4 2321.5 C1425.5 2299.6 1518.7 2305.1 1636.5 2295.9" fill="none" stroke="#0070C0" stroke-width="13.0" stroke-linecap="round" stroke-linejoin="round"/>
<circle cx="284.2" cy="3496.6" r="24.0" fill="#5B9BD5"/>
<text x="379.0" y="3517.0" font-family="'Liberation Sans', sans-serif" font-size="64.0" fill="#000" textLength="510.0" lengthAdjust="spacingAndGlyphs" xml:space="preserve">30 °C experiment</text>
<path d="M1134.4 3474.1 L1156.9 3519.1 L1111.9 3519.1 Z" fill="#ED7D31" stroke="#ED7D31" stroke-width="3" stroke-linejoin="round"/>
<text x="1228.7" y="3517.0" font-family="'Liberation Sans', sans-serif" font-size="64.0" fill="#000" textLength="510.0" lengthAdjust="spacingAndGlyphs" xml:space="preserve">50 °C experiment</text>
<rect x="260.2" y="3570.0" width="48.0" height="48.0" rx="3" fill="#00B050"/>
<text x="378.2" y="3614.0" font-family="'Liberation Sans', sans-serif" font-size="64.0" fill="#000" textLength="510.8" lengthAdjust="spacingAndGlyphs" xml:space="preserve">70 °C experiment</text>
<path d="M1056.4 3594.0 H1212.4" stroke="#ED7D31" stroke-width="13.0" stroke-linecap="round" fill="none"/>
<text x="1228.8" y="3614.0" font-family="'Liberation Sans', sans-serif" font-size="64.0" fill="#000" textLength="362.0" lengthAdjust="spacingAndGlyphs" xml:space="preserve">50°C Predict</text>
<path d="M206.2 3691.3 H362.2" stroke="#00B050" stroke-width="13.0" stroke-linecap="round" fill="none"/>
<text x="378.3" y="3710.8" font-family="'Liberation Sans', sans-serif" font-size="64.0" fill="#000" textLength="363.8" lengthAdjust="spacingAndGlyphs" xml:space="preserve">70°C Predict</text>
<path d="M1056.4 3691.3 H1212.4" stroke="#0070C0" stroke-width="13.0" stroke-linecap="round" fill="none"/>
<text x="1228.8" y="3710.8" font-family="'Liberation Sans', sans-serif" font-size="64.0" fill="#000" textLength="362.0" lengthAdjust="spacingAndGlyphs" xml:space="preserve">30°C Predict</text>
<g fill="#dbdbdb"><rect x="2275.3" y="1949.0" width="6.7" height="1846.5"/><rect x="4287.7" y="1949.0" width="6.5" height="1846.5"/><rect x="2275.3" y="1949.0" width="2018.9" height="6.2"/><rect x="2275.3" y="3788.0" width="2018.9" height="7.5"/></g>
<path d="M2590.5 2016.4 V3226.8" stroke="#000" stroke-width="8.0" fill="none"/><path d="M3954.5 2016.4 V3226.8" stroke="#000" stroke-width="7.0" fill="none"/><path d="M2586.5 3223.0 H3958.0" stroke="#000" stroke-width="7.5" fill="none"/>
<text x="2484.4" y="3244.7" font-family="'Liberation Sans', sans-serif" font-size="70.0" fill="#000" textLength="37.2" lengthAdjust="spacingAndGlyphs" xml:space="preserve">0</text>
<text x="4021.4" y="3244.7" font-family="'Liberation Sans', sans-serif" font-size="70.0" fill="#000" textLength="37.2" lengthAdjust="spacingAndGlyphs" xml:space="preserve">0</text>
<text x="2429.2" y="3124.0" font-family="'Liberation Sans', sans-serif" font-size="70.0" fill="#000" textLength="92.9" lengthAdjust="spacingAndGlyphs" xml:space="preserve">0.1</text>
<text x="4021.4" y="3124.0" font-family="'Liberation Sans', sans-serif" font-size="70.0" fill="#000" textLength="92.9" lengthAdjust="spacingAndGlyphs" xml:space="preserve">0.1</text>
<text x="2429.2" y="3003.4" font-family="'Liberation Sans', sans-serif" font-size="70.0" fill="#000" textLength="92.9" lengthAdjust="spacingAndGlyphs" xml:space="preserve">0.2</text>
<text x="4021.4" y="3003.4" font-family="'Liberation Sans', sans-serif" font-size="70.0" fill="#000" textLength="92.9" lengthAdjust="spacingAndGlyphs" xml:space="preserve">0.2</text>
<text x="2428.8" y="2882.7" font-family="'Liberation Sans', sans-serif" font-size="70.0" fill="#000" textLength="92.9" lengthAdjust="spacingAndGlyphs" xml:space="preserve">0.3</text>
<text x="4021.4" y="2882.7" font-family="'Liberation Sans', sans-serif" font-size="70.0" fill="#000" textLength="92.9" lengthAdjust="spacingAndGlyphs" xml:space="preserve">0.3</text>
<text x="2427.8" y="2762.1" font-family="'Liberation Sans', sans-serif" font-size="70.0" fill="#000" textLength="92.9" lengthAdjust="spacingAndGlyphs" xml:space="preserve">0.4</text>
<text x="4021.4" y="2762.1" font-family="'Liberation Sans', sans-serif" font-size="70.0" fill="#000" textLength="92.9" lengthAdjust="spacingAndGlyphs" xml:space="preserve">0.4</text>
<text x="2428.8" y="2641.4" font-family="'Liberation Sans', sans-serif" font-size="70.0" fill="#000" textLength="92.9" lengthAdjust="spacingAndGlyphs" xml:space="preserve">0.5</text>
<text x="4021.4" y="2641.4" font-family="'Liberation Sans', sans-serif" font-size="70.0" fill="#000" textLength="92.9" lengthAdjust="spacingAndGlyphs" xml:space="preserve">0.5</text>
<text x="2428.8" y="2520.7" font-family="'Liberation Sans', sans-serif" font-size="70.0" fill="#000" textLength="92.9" lengthAdjust="spacingAndGlyphs" xml:space="preserve">0.6</text>
<text x="4021.4" y="2520.7" font-family="'Liberation Sans', sans-serif" font-size="70.0" fill="#000" textLength="92.9" lengthAdjust="spacingAndGlyphs" xml:space="preserve">0.6</text>
<text x="2429.2" y="2400.1" font-family="'Liberation Sans', sans-serif" font-size="70.0" fill="#000" textLength="92.9" lengthAdjust="spacingAndGlyphs" xml:space="preserve">0.7</text>
<text x="4021.4" y="2400.1" font-family="'Liberation Sans', sans-serif" font-size="70.0" fill="#000" textLength="92.9" lengthAdjust="spacingAndGlyphs" xml:space="preserve">0.7</text>
<text x="2428.8" y="2279.4" font-family="'Liberation Sans', sans-serif" font-size="70.0" fill="#000" textLength="92.9" lengthAdjust="spacingAndGlyphs" xml:space="preserve">0.8</text>
<text x="4021.4" y="2279.4" font-family="'Liberation Sans', sans-serif" font-size="70.0" fill="#000" textLength="92.9" lengthAdjust="spacingAndGlyphs" xml:space="preserve">0.8</text>
<text x="2429.0" y="2158.8" font-family="'Liberation Sans', sans-serif" font-size="70.0" fill="#000" textLength="92.9" lengthAdjust="spacingAndGlyphs" xml:space="preserve">0.9</text>
<text x="4021.4" y="2158.8" font-family="'Liberation Sans', sans-serif" font-size="70.0" fill="#000" textLength="92.9" lengthAdjust="spacingAndGlyphs" xml:space="preserve">0.9</text>
<text x="2485.1" y="2038.1" font-family="'Liberation Sans', sans-serif" font-size="70.0" fill="#000" textLength="37.2" lengthAdjust="spacingAndGlyphs" xml:space="preserve">1</text>
<text x="4019.0" y="2038.1" font-family="'Liberation Sans', sans-serif" font-size="70.0" fill="#000" textLength="37.2" lengthAdjust="spacingAndGlyphs" xml:space="preserve">1</text>
<text x="2571.9" y="3342.0" font-family="'Liberation Sans', sans-serif" font-size="70.0" fill="#000" textLength="37.2" lengthAdjust="spacingAndGlyphs" xml:space="preserve">0</text>
<text x="3007.9" y="3342.0" font-family="'Liberation Sans', sans-serif" font-size="70.0" fill="#000" textLength="74.4" lengthAdjust="spacingAndGlyphs" xml:space="preserve">50</text>
<text x="3442.9" y="3342.0" font-family="'Liberation Sans', sans-serif" font-size="70.0" fill="#000" textLength="111.5" lengthAdjust="spacingAndGlyphs" xml:space="preserve">100</text>
<text x="3897.6" y="3342.0" font-family="'Liberation Sans', sans-serif" font-size="70.0" fill="#000" textLength="111.5" lengthAdjust="spacingAndGlyphs" xml:space="preserve">150</text>
<text transform="translate(2384.0 2616.7) rotate(-90)" x="-314.3" y="0" font-family="'Liberation Sans', sans-serif" font-size="75.0" fill="#000" textLength="628.0" lengthAdjust="spacingAndGlyphs" xml:space="preserve">experiment Yield%</text>
<text transform="translate(4217.5 2619.7) rotate(-90)" x="-242.8" y="0" font-family="'Liberation Sans', sans-serif" font-size="75.0" fill="#000" textLength="483.7" lengthAdjust="spacingAndGlyphs" xml:space="preserve">predict Yield%</text>
<text x="3104.7" y="3465.2" font-family="'Liberation Sans', sans-serif" font-size="75.0" fill="#000" textLength="337.5" lengthAdjust="spacingAndGlyphs" xml:space="preserve">Time(min)</text>
<text x="2797.4" y="2139.7" font-family="'Liberation Serif', serif" font-size="97.0" fill="#000" textLength="115.3" lengthAdjust="spacingAndGlyphs" xml:space="preserve">(d)</text>
<rect x="2859.6" y="2785.0" width="7.5" height="55.5" fill="#595959"/>
<rect x="2844.1" y="2781.0" width="38.5" height="8" fill="#595959"/>
<rect x="2844.1" y="2836.5" width="38.5" height="8" fill="#595959"/>
<rect x="3132.3" y="2287.9" width="7.5" height="60.3" fill="#595959"/>
<rect x="3116.8" y="2283.9" width="38.5" height="8" fill="#595959"/>
<rect x="3116.8" y="2344.2" width="38.5" height="8" fill="#595959"/>
<rect x="3405.2" y="2269.8" width="7.5" height="48.3" fill="#595959"/>
<rect x="3389.7" y="2265.8" width="38.5" height="8" fill="#595959"/>
<rect x="3389.7" y="2314.1" width="38.5" height="8" fill="#595959"/>
<rect x="3677.9" y="2242.0" width="7.5" height="55.5" fill="#595959"/>
<rect x="3662.4" y="2238.0" width="38.5" height="8" fill="#595959"/>
<rect x="3662.4" y="2293.5" width="38.5" height="8" fill="#595959"/>
<rect x="2859.6" y="2559.4" width="7.5" height="72.4" fill="#595959"/>
<rect x="2844.1" y="2555.4" width="38.5" height="8" fill="#595959"/>
<rect x="2844.1" y="2627.8" width="38.5" height="8" fill="#595959"/>
<rect x="3132.3" y="2106.9" width="7.5" height="60.3" fill="#595959"/>
<rect x="3116.8" y="2102.9" width="38.5" height="8" fill="#595959"/>
<rect x="3116.8" y="2163.2" width="38.5" height="8" fill="#595959"/>
<rect x="3405.2" y="2082.8" width="7.5" height="60.3" fill="#595959"/>
<rect x="3389.7" y="2078.8" width="38.5" height="8" fill="#595959"/>
<rect x="3389.7" y="2139.1" width="38.5" height="8" fill="#595959"/>
<rect x="3677.9" y="2052.6" width="7.5" height="72.4" fill="#595959"/>
<rect x="3662.4" y="2048.6" width="38.5" height="8" fill="#595959"/>
<rect x="3662.4" y="2121.0" width="38.5" height="8" fill="#595959"/>
<rect x="2859.6" y="2523.2" width="7.5" height="72.4" fill="#595959"/>
<rect x="2844.1" y="2519.2" width="38.5" height="8" fill="#595959"/>
<rect x="2844.1" y="2591.6" width="38.5" height="8" fill="#595959"/>
<rect x="3132.3" y="2040.5" width="7.5" height="72.4" fill="#595959"/>
<rect x="3116.8" y="2036.5" width="38.5" height="8" fill="#595959"/>
<rect x="3116.8" y="2108.9" width="38.5" height="8" fill="#595959"/>
<rect x="3405.2" y="2022.4" width="7.5" height="60.3" fill="#595959"/>
<rect x="3389.7" y="2018.4" width="38.5" height="8" fill="#595959"/>
<rect x="3389.7" y="2078.8" width="38.5" height="8" fill="#595959"/>
<rect x="3677.9" y="2018.2" width="7.5" height="44.6" fill="#595959"/>
<rect x="3662.4" y="2014.2" width="38.5" height="8" fill="#595959"/>
<rect x="3662.4" y="2058.9" width="38.5" height="8" fill="#595959"/>
<circle cx="2590.5" cy="3223.0" r="23.5" fill="#4472C4"/>
<circle cx="2863.3" cy="2812.8" r="23.5" fill="#4472C4"/>
<circle cx="3136.1" cy="2318.1" r="23.5" fill="#4472C4"/>
<circle cx="3408.9" cy="2293.9" r="23.5" fill="#4472C4"/>
<circle cx="3681.7" cy="2269.8" r="23.5" fill="#4472C4"/>
<path d="M2590.5 3201.0 L2612.5 3245.0 L2568.5 3245.0 Z" fill="#ED7D31" stroke="#ED7D31" stroke-width="3" stroke-linejoin="round"/>
<path d="M2863.3 2573.6 L2885.3 2617.6 L2841.3 2617.6 Z" fill="#ED7D31" stroke="#ED7D31" stroke-width="3" stroke-linejoin="round"/>
<path d="M3136.1 2115.1 L3158.1 2159.1 L3114.1 2159.1 Z" fill="#ED7D31" stroke="#ED7D31" stroke-width="3" stroke-linejoin="round"/>
<path d="M3408.9 2090.9 L3430.9 2134.9 L3386.9 2134.9 Z" fill="#ED7D31" stroke="#ED7D31" stroke-width="3" stroke-linejoin="round"/>
<path d="M3681.7 2066.8 L3703.7 2110.8 L3659.7 2110.8 Z" fill="#ED7D31" stroke="#ED7D31" stroke-width="3" stroke-linejoin="round"/>
<rect x="2567.0" y="3199.5" width="47.0" height="47.0" rx="3" fill="#00B050"/>
<rect x="2839.8" y="2535.9" width="47.0" height="47.0" rx="3" fill="#00B050"/>
<rect x="3112.6" y="2053.2" width="47.0" height="47.0" rx="3" fill="#00B050"/>
<rect x="3385.4" y="2029.1" width="47.0" height="47.0" rx="3" fill="#00B050"/>
<rect x="3658.2" y="2017.0" width="47.0" height="47.0" rx="3" fill="#00B050"/>
<path d="M2590.5 3223.0 C2688.7 3070.1 2766.1 2951.8 2863.3 2798.3 C2962.5 2641.5 3003.0 2490.2 3136.1 2360.9 C3210.5 2288.7 3307.4 2289.7 3408.9 2268.6 C3505.3 2248.5 3583.5 2255.1 3681.7 2247.5" fill="none" stroke="#0070C0" stroke-width="13.0" stroke-linecap="round" stroke-linejoin="round"/>
<path d="M2590.5 3223.0 C2688.7 2999.9 2753.4 2820.9 2863.3 2603.4 C2950.2 2431.5 2994.7 2273.9 3136.1 2143.1 C3209.1 2075.5 3309.8 2107.7 3408.9 2098.4 C3506.7 2089.4 3583.5 2094.6 3681.7 2092.4" fill="none" stroke="#ED7D31" stroke-width="13.0" stroke-linecap="round" stroke-linejoin="round"/>
<path d="M2590.5 3223.0 C2688.7 2985.8 2753.2 2796.1 2863.3 2564.2 C2949.9 2381.9 2989.8 2213.4 3136.1 2074.3 C3207.7 2006.3 3310.3 2051.0 3408.9 2045.4 C3506.9 2039.7 3583.5 2043.8 3681.7 2042.9" fill="none" stroke="#70AD47" stroke-width="13.0" stroke-linecap="round" stroke-linejoin="round"/>
<circle cx="2510.0" cy="3515.6" r="24.0" fill="#4472C4"/>
<text x="2605.4" y="3536.0" font-family="'Liberation Sans', sans-serif" font-size="64.0" fill="#000" textLength="510.0" lengthAdjust="spacingAndGlyphs" xml:space="preserve">30 °C experiment</text>
<path d="M3335.2 3493.1 L3357.7 3538.1 L3312.7 3538.1 Z" fill="#ED7D31" stroke="#ED7D31" stroke-width="3" stroke-linejoin="round"/>
<text x="3429.2" y="3536.0" font-family="'Liberation Sans', sans-serif" font-size="64.0" fill="#000" textLength="512.0" lengthAdjust="spacingAndGlyphs" xml:space="preserve">50 °C experiment</text>
<rect x="2486.0" y="3582.8" width="48.0" height="48.0" rx="3" fill="#00B050"/>
<text x="2604.6" y="3626.6" font-family="'Liberation Sans', sans-serif" font-size="64.0" fill="#000" textLength="510.8" lengthAdjust="spacingAndGlyphs" xml:space="preserve">70 °C experiment</text>
<path d="M3257.2 3606.8 H3413.2" stroke="#0070C0" stroke-width="13.0" stroke-linecap="round" fill="none"/>
<text x="3429.2" y="3626.6" font-family="'Liberation Sans', sans-serif" font-size="64.0" fill="#000" textLength="379.7" lengthAdjust="spacingAndGlyphs" xml:space="preserve">30 °C predict</text>
<path d="M2432.0 3696.6 H2588.0" stroke="#ED7D31" stroke-width="13.0" stroke-linecap="round" fill="none"/>
<text x="2605.5" y="3716.2" font-family="'Liberation Sans', sans-serif" font-size="64.0" fill="#000" textLength="378.0" lengthAdjust="spacingAndGlyphs" xml:space="preserve">50 °C predict</text>
<path d="M3257.2 3696.6 H3413.2" stroke="#70AD47" stroke-width="13.0" stroke-linecap="round" fill="none"/>
<text x="3428.5" y="3716.2" font-family="'Liberation Sans', sans-serif" font-size="64.0" fill="#000" textLength="380.5" lengthAdjust="spacingAndGlyphs" xml:space="preserve">70 °C predict</text>
</svg>
</body></html>
